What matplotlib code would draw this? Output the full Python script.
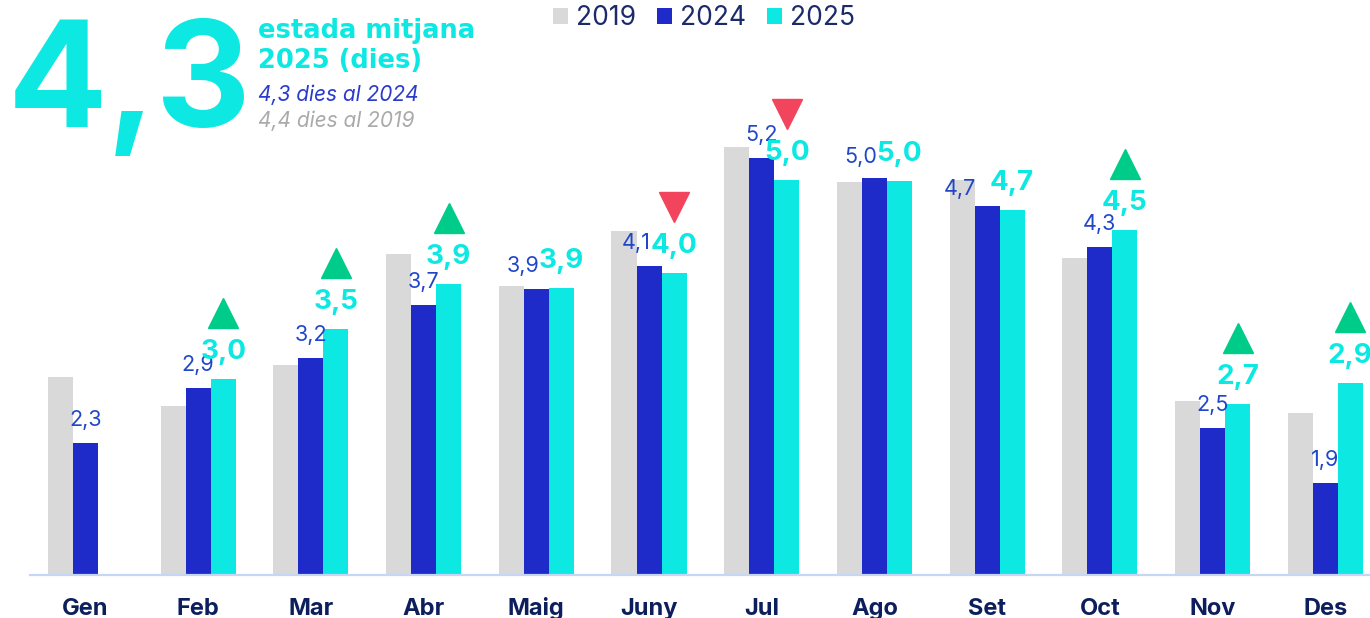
import numpy as np
import matplotlib.pyplot as plt
from matplotlib.transforms import offset_copy

plt.rcParams['font.family'] = ['Inter', 'DejaVu Sans']

mesos = ["Gen", "Feb", "Mar", "Abr", "Maig", "Juny", "Jul", "Ago", "Set", "Oct", "Nov", "Des"]
v2019 = [2.97, 2.68, 3.10, 4.22, 3.90, 4.45, 5.30, 4.95, 4.97, 4.18, 2.73, 2.61]
v2024 = [2.31, 2.86, 3.17, 3.70, 3.86, 4.10, 5.19, 4.99, 4.70, 4.29, 2.46, 1.90]
v2025 = [np.nan, 2.95, 3.46, 3.92, 3.87, 4.03, 4.97, 4.96, 4.66, 4.46, 2.70, 2.91]
# fletxa respecte 2024: 1 puja, -1 baixa, 0 res
tendencia = [0, 1, 1, 1, 0, -1, -1, 0, 0, 1, 1, 1]

mitjana_2025 = "4,3"
mitjana_2024 = "4,3"
mitjana_2019 = "4,4"

c19 = '#d9d9d9'
c24 = '#1e2bc8'
c25 = '#0de8e2'
c_lab24 = '#2147c9'
c_navy = '#0c1f5c'
c_up = '#00cc8a'
c_down = '#f2445c'

W, H = 1370, 618
fig = plt.figure(figsize=(W / 100, H / 100), dpi=100)
ax = fig.add_axes([30 / W, 43 / H, 1340 / W, 575 / H])

ymin = 0.97
ax.set_ylim(ymin, ymin + 575 / 98.8)
ax.set_xlim(-0.4925, 11.397)

x = np.arange(len(mesos))
w = 0.222
ax.bar(x - w, v2019, w, color=c19, label='2019')
ax.bar(x, v2024, w, color=c24, label='2024')
ax.bar(x + w, v2025, w, color=c25, label='2025')

for s in ['top', 'right', 'left']:
    ax.spines[s].set_visible(False)
ax.spines['bottom'].set_color('#c5d6f7')
ax.spines['bottom'].set_linewidth(1.6)
ax.set_yticks([])
ax.set_xticks([])

# etiquetes de mes
for i, m in enumerate(mesos):
    ax.annotate(m, xy=(i, 0), xycoords=('data', 'axes fraction'),
                xytext=(0, -40), textcoords='offset pixels',
                ha='center', va='baseline', fontsize=17, fontweight='bold', color=c_navy)

# petits ajustos de posicio de les etiquetes 2024 (pixels)
nudge24 = {4: (-13, 17), 5: (-13, 17), 7: (-14, 15), 8: (-27, 11)}

for i in range(len(mesos)):
    dx, dy = nudge24.get(i, (0, 17))
    ax.annotate(f"{v2024[i]:.1f}".replace('.', ','), xy=(x[i], v2024[i]),
                xytext=(dx, dy), textcoords='offset pixels',
                ha='center', va='baseline', fontsize=15.5, color=c_lab24)
    if not np.isnan(v2025[i]):
        ax.annotate(f"{v2025[i]:.1f}".replace('.', ','), xy=(x[i] + w, v2025[i]),
                    xytext=(0, 20), textcoords='offset pixels',
                    ha='center', va='baseline', fontsize=20, fontweight='bold', color=c25)

tri = offset_copy(ax.transData, fig=fig, y=66, units='dots')
for i, t in enumerate(tendencia):
    if t == 0:
        continue
    ax.plot(x[i] + w, v2025[i], marker='^' if t > 0 else 'v', ms=21,
            color=c_up if t > 0 else c_down, transform=tri,
            clip_on=False, linestyle='none')

# capcalera
fig.text(8 / W, 1 - 127 / H, mitjana_2025, fontsize=106, fontweight='bold', color=c25,
         va='baseline', ha='left')
fig.text(258 / W, 1 - 38 / H, "estada mitjana", fontsize=18.5, fontweight='bold', color=c25,
         va='baseline', family='DejaVu Sans')
fig.text(258 / W, 1 - 68 / H, "2025 (dies)", fontsize=18.5, fontweight='bold', color=c25,
         va='baseline', family='DejaVu Sans')
fig.text(258 / W, 1 - 101 / H, f"{mitjana_2024} dies al 2024", fontsize=15, style='italic',
         color='#2a3acc', va='baseline')
fig.text(258 / W, 1 - 127 / H, f"{mitjana_2019} dies al 2019", fontsize=15, style='italic',
         color='#aaaaaa', va='baseline')

leg = ax.legend(loc='center', bbox_to_anchor=(704 / W, 1 - 18 / H), bbox_transform=fig.transFigure,
                ncol=3, frameon=False, fontsize=19, handlelength=0.57, handleheight=0.57,
                handletextpad=0.3, columnspacing=0.8, borderpad=0)
for t in leg.get_texts():
    t.set_color('#1b2a6b')

fig.savefig('out.png', dpi=100)
